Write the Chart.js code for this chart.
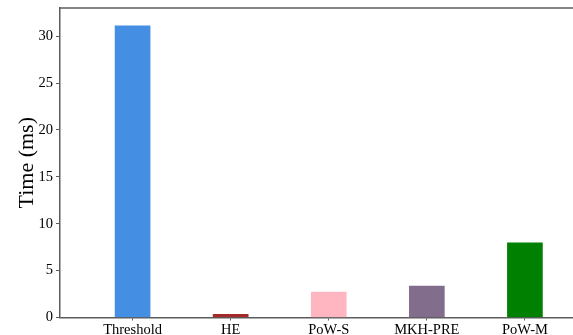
<!DOCTYPE html>
<html>
<head>
<meta charset="utf-8">
<script src="https://cdn.jsdelivr.net/npm/chart.js@4/dist/chart.umd.min.js"></script>
<style>
  html, body { margin: 0; padding: 0; background: #ffffff; }
  #wrap { width: 573px; height: 335px; position: relative; }
</style>
</head>
<body>
<div id="wrap"><canvas id="c" width="573" height="335"></canvas></div>
<script>
// Per-scheme running time in milliseconds
const schemes = ['Threshold', 'HE', 'PoW-S', 'MKH-PRE', 'PoW-M'];
const timesMs = [31.1, 0.35, 2.7, 3.35, 7.95];
const barColors = ['#448ee4', '#a52a2a', '#ffb6c1', '#826d8c', '#008000'];
const yTicks = [0, 5, 10, 15, 20, 25, 30];

const serif = "'Liberation Serif', 'Times New Roman', serif";
const spineColor = '#5c5c5c';

// Top spine of the plotting area (left and bottom come from the axes)
const topSpine = {
  id: 'topSpine',
  afterDraw(chart) {
    const { ctx, chartArea: a } = chart;
    ctx.save();
    ctx.strokeStyle = spineColor;
    ctx.lineWidth = 1.5;
    ctx.beginPath();
    ctx.moveTo(a.left, a.top);
    ctx.lineTo(a.right + 1, a.top);
    ctx.stroke();
    ctx.restore();
  }
};

new Chart(document.getElementById('c'), {
  type: 'bar',
  data: {
    datasets: [{
      data: schemes.map((s, i) => ({ x: i, y: timesMs[i] })),
      backgroundColor: barColors,
      borderWidth: 0,
      barThickness: 35
    }]
  },
  options: {
    responsive: false,
    animation: false,
    devicePixelRatio: 1,
    layout: { padding: { left: 0, top: 8, right: 1, bottom: 0 } },
    plugins: { legend: { display: false }, tooltip: { enabled: false } },
    scales: {
      x: {
        type: 'linear',
        min: -0.74,
        max: 4.48,
        offset: false,
        afterBuildTicks(scale) {
          scale.ticks = schemes.map((s, i) => ({ value: i }));
        },
        afterFit(scale) {
          scale.height = 17.5;
          scale.paddingLeft = 0;
          scale.paddingRight = 0;
        },
        ticks: {
          callback: (v) => schemes[v] ?? '',
          color: '#000',
          font: { family: serif, size: 14.5 },
          padding: 1,
          maxRotation: 0,
          autoSkip: false
        },
        grid: { offset: false, drawOnChartArea: false, drawTicks: true, tickLength: 3, color: spineColor },
        border: { display: true, color: spineColor, width: 1.5 }
      },
      y: {
        min: 0,
        max: 33,
        afterBuildTicks(scale) {
          scale.ticks = yTicks.map(v => ({ value: v }));
        },
        afterFit(scale) {
          scale.width = 60;
          scale.paddingTop = 0;
          scale.paddingBottom = 0;
        },
        ticks: {
          color: '#000',
          font: { family: serif, size: 14.5 },
          padding: 3
        },
        grid: { drawOnChartArea: false, drawTicks: true, tickLength: 4, color: spineColor },
        border: { display: true, color: spineColor, width: 1.5 },
        title: {
          display: true,
          text: 'Time (ms)',
          color: '#000',
          font: { family: serif, size: 22 },
          padding: { top: 14, bottom: 0 }
        }
      }
    }
  },
  plugins: [topSpine]
});
</script>
</body>
</html>
